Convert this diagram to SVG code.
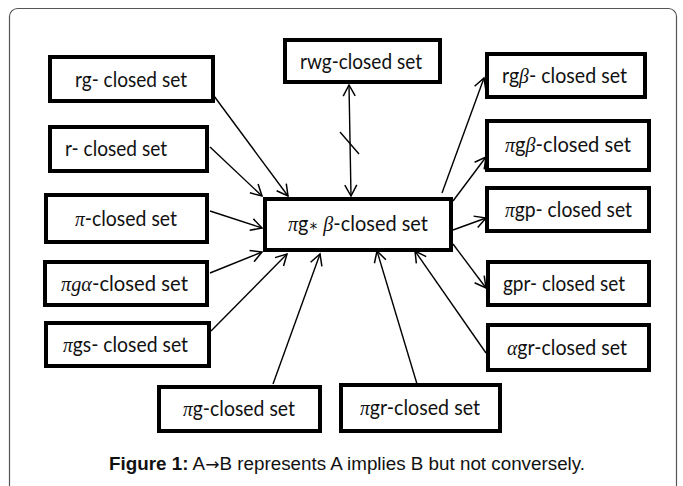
<svg xmlns="http://www.w3.org/2000/svg" width="683" height="486" viewBox="0 0 683 486">
  <style>
    .box { fill: #fff; stroke: #000; stroke-width: 4; }
    .lbl { font-family: Lato, "Open Sans", sans-serif; font-size: 21px; fill: #111; }
    .gr { font-family: "Liberation Serif", "DejaVu Serif", serif; font-style: italic; }
    .edge { stroke: #000; stroke-width: 1.4; fill: none; }
    .cap { font-family: "Liberation Sans", Arial, sans-serif; font-size: 17.5px; fill: #111; }
  </style>
  <defs>
    <marker id="arr" markerUnits="userSpaceOnUse" markerWidth="16" markerHeight="16" viewBox="-13 -8 16 16" refX="0" refY="0" orient="auto-start-reverse">
      <path d="M-11,-6 L0,0 L-11,6" fill="none" stroke="#000" stroke-width="1.5"/>
    </marker>
  </defs>

  <!-- outer frame -->
  <rect x="9.5" y="8.5" width="667" height="500" rx="8" fill="#fff" stroke="#555" stroke-width="1.2"/>

  <!-- connectors -->
  <g id="connectors">
    <line class="edge" x1="214" y1="96" x2="288" y2="196" marker-end="url(#arr)"/>
    <line class="edge" x1="210" y1="147" x2="262" y2="196" marker-end="url(#arr)"/>
    <line class="edge" x1="210" y1="211" x2="262" y2="228" marker-end="url(#arr)"/>
    <line class="edge" x1="210" y1="273" x2="262" y2="252" marker-end="url(#arr)"/>
    <line class="edge" x1="211" y1="331" x2="287" y2="254" marker-end="url(#arr)"/>
    <line class="edge" x1="273" y1="384" x2="320" y2="254" marker-end="url(#arr)"/>
    <line class="edge" x1="417" y1="384" x2="377" y2="251" marker-end="url(#arr)"/>
    <line class="edge" x1="486" y1="353" x2="415" y2="251" marker-end="url(#arr)"/>
    <line class="edge" x1="453" y1="244" x2="486" y2="288" marker-end="url(#arr)"/>
    <line class="edge" x1="453" y1="230" x2="486" y2="218" marker-end="url(#arr)"/>
    <line class="edge" x1="453" y1="201" x2="486" y2="157" marker-end="url(#arr)"/>
    <line class="edge" x1="442" y1="193" x2="484" y2="78" marker-end="url(#arr)"/>
    <line class="edge" x1="349" y1="85" x2="351" y2="196" marker-start="url(#arr)" marker-end="url(#arr)"/>
    <line class="edge" x1="340" y1="132" x2="359" y2="154"/>
  </g>

  <g id="center">
    <rect class="box" x="265" y="199" width="186" height="51"/>
    <text class="lbl" x="288" y="231" textLength="140" lengthAdjust="spacingAndGlyphs" style="font-size:22px"><tspan class="gr">π</tspan>g<tspan class="gr" font-size="16">∗</tspan> <tspan class="gr">β</tspan>-closed set</text>
  </g>

  <g id="rg">
    <rect class="box" x="50" y="57" width="163" height="44"/>
    <text class="lbl" x="75" y="87" textLength="112" lengthAdjust="spacingAndGlyphs">rg- closed set</text>
  </g>
  <g id="r">
    <rect class="box" x="50" y="127" width="157" height="44"/>
    <text class="lbl" x="65" y="156" textLength="102" lengthAdjust="spacingAndGlyphs">r- closed set</text>
  </g>
  <g id="pi">
    <rect class="box" x="46" y="195" width="161" height="47"/>
    <text class="lbl" x="75" y="226" textLength="102" lengthAdjust="spacingAndGlyphs"><tspan class="gr">π</tspan>-closed set</text>
  </g>
  <g id="pi-g-alpha">
    <rect class="box" x="45" y="262" width="162" height="43"/>
    <text class="lbl" x="61" y="291" textLength="127" lengthAdjust="spacingAndGlyphs"><tspan class="gr">πgα</tspan>-closed set</text>
  </g>
  <g id="pi-gs">
    <rect class="box" x="46" y="323" width="163" height="43"/>
    <text class="lbl" x="63" y="352" textLength="125" lengthAdjust="spacingAndGlyphs"><tspan class="gr">π</tspan>gs- closed set</text>
  </g>

  <g id="rwg">
    <rect class="box" x="285" y="40" width="155" height="42"/>
    <text class="lbl" x="300" y="69" textLength="122" lengthAdjust="spacingAndGlyphs">rwg-closed set</text>
  </g>

  <g id="rg-beta">
    <rect class="box" x="487" y="54" width="158" height="43"/>
    <text class="lbl" x="502" y="83" textLength="125" lengthAdjust="spacingAndGlyphs">rg<tspan class="gr">β</tspan>- closed set</text>
  </g>
  <g id="pi-g-beta">
    <rect class="box" x="487" y="121" width="162" height="49"/>
    <text class="lbl" x="505" y="152" textLength="126" lengthAdjust="spacingAndGlyphs"><tspan class="gr">π</tspan>g<tspan class="gr">β</tspan>-closed set</text>
  </g>
  <g id="pi-gp">
    <rect class="box" x="487" y="188" width="162" height="43"/>
    <text class="lbl" x="505" y="217" textLength="127" lengthAdjust="spacingAndGlyphs"><tspan class="gr">π</tspan>gp- closed set</text>
  </g>
  <g id="gpr">
    <rect class="box" x="488" y="262" width="161" height="43"/>
    <text class="lbl" x="503" y="291" textLength="122" lengthAdjust="spacingAndGlyphs">gpr- closed set</text>
  </g>
  <g id="alpha-gr">
    <rect class="box" x="488" y="325" width="161" height="45"/>
    <text class="lbl" x="507" y="355" textLength="120" lengthAdjust="spacingAndGlyphs"><tspan class="gr">α</tspan>gr-closed set</text>
  </g>

  <g id="pi-g">
    <rect class="box" x="159" y="387" width="161" height="44"/>
    <text class="lbl" x="183" y="416" textLength="112" lengthAdjust="spacingAndGlyphs"><tspan class="gr">π</tspan>g-closed set</text>
  </g>
  <g id="pi-gr">
    <rect class="box" x="341" y="385" width="159" height="46"/>
    <text class="lbl" x="360" y="415" textLength="120" lengthAdjust="spacingAndGlyphs"><tspan class="gr">π</tspan>gr-closed set</text>
  </g>

  <!-- caption -->
  <text class="cap" x="109" y="470" textLength="476" lengthAdjust="spacingAndGlyphs"><tspan font-weight="bold">Figure 1:</tspan> A<tspan font-family="'DejaVu Sans', sans-serif" font-size="16">→</tspan>B represents A implies B but not conversely.</text>
</svg>
